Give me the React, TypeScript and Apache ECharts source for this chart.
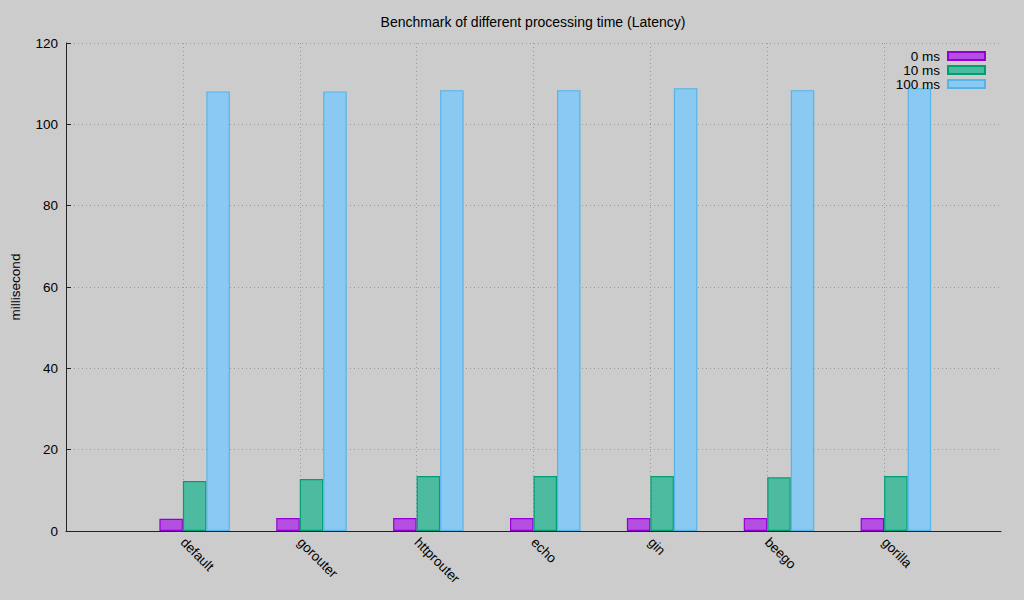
import React, { useEffect, useRef } from "react";
import * as echarts from "echarts";

const categories = ["default", "gorouter", "httprouter", "echo", "gin", "beego", "gorilla"];
const seriesNames = ["0 ms", "10 ms", "100 ms"];
const latency0ms = [3.0, 3.2, 3.2, 3.2, 3.2, 3.2, 3.2];
const latency10ms = [12.3, 12.8, 13.5, 13.5, 13.5, 13.2, 13.5];
const latency100ms = [108.1, 108.1, 108.4, 108.4, 108.9, 108.4, 108.9];
const yTicks = { min: 0, max: 120, interval: 20 };

const fills = ["#b44fe2", "#4dbb9f", "#8acaf2"];
const borders = ["#9400d3", "#009e73", "#56b4e9"];
const FONT = "Liberation Sans, Arial, Helvetica, sans-serif";

export default function App() {
  const ref = useRef<HTMLDivElement>(null);
  useEffect(() => {
    document.body.style.margin = "0";
    document.body.style.background = "#cccccc";
    if (!ref.current) return;
    const chart = echarts.init(ref.current, null, { renderer: "svg" });
    const axisCats = ["", ...categories, ""];
    const pad = (arr: (number | null)[]) => [null, ...arr, null];
    const values = [latency0ms, latency10ms, latency100ms];
    const barSeries = seriesNames.map((name, i) => ({
      name,
      type: "bar",
      barWidth: 23.5,
      barGap: "0%",
      data: pad(values[i]),
      itemStyle: { color: fills[i], borderColor: borders[i], borderWidth: 1.2 },
    }));
    chart.setOption({
      animation: false,
      backgroundColor: "#cccccc",
      textStyle: { fontFamily: FONT, color: "#000" },
      title: {
        text: "Benchmark of different processing time (Latency)",
        left: 533,
        textAlign: "center",
        top: 15,
        padding: 0,
        textStyle: { fontSize: 14, fontWeight: "normal", color: "#000", fontFamily: FONT },
      },
      legend: {
        data: seriesNames,
        orient: "vertical",
        align: "right",
        right: 38,
        top: 49,
        padding: 0,
        itemWidth: 37,
        itemHeight: 8,
        itemGap: 0,
        icon: "rect",
        selectedMode: false,
        textStyle: { fontSize: 13.5, color: "#000", fontFamily: FONT, padding: [0, 3, 0, 0], lineHeight: 13 },
      },
      grid: { left: 65, right: 23, top: 43, bottom: 69, containLabel: false },
      xAxis: {
        type: "category",
        data: axisCats,
        boundaryGap: false,
        axisLine: { lineStyle: { color: "#222", width: 1 } },
        axisTick: { show: false },
        axisLabel: { rotate: -45, fontSize: 13.5, color: "#000", fontFamily: FONT, margin: 9, interval: 0 },
        splitLine: {
          show: true,
          interval: (index: number) => index > 0 && index < axisCats.length - 1,
          lineStyle: { color: "#9a9a9a", type: [1, 3], width: 1 },
        },
      },
      yAxis: {
        type: "value",
        min: yTicks.min,
        max: yTicks.max,
        interval: yTicks.interval,
        name: "millisecond",
        nameLocation: "middle",
        nameRotate: 90,
        nameGap: 44,
        nameTextStyle: { fontSize: 13.5, color: "#000", fontFamily: FONT },
        axisLine: { show: true, lineStyle: { color: "#222", width: 1 } },
        axisTick: { show: true, inside: true, length: 5, lineStyle: { color: "#222" } },
        axisLabel: { fontSize: 13.5, color: "#000", fontFamily: FONT, margin: 8 },
        splitLine: { show: true, lineStyle: { color: "#9a9a9a", type: [1, 3], width: 1 } },
      },
      series: [
        { name: "", type: "bar", barWidth: 23.5, barGap: "0%", data: pad(categories.map(() => null)), silent: true },
        ...barSeries,
      ],
    });
    return () => chart.dispose();
  }, []);
  return <div ref={ref} style={{ width: 1024, height: 600 }} />;
}
